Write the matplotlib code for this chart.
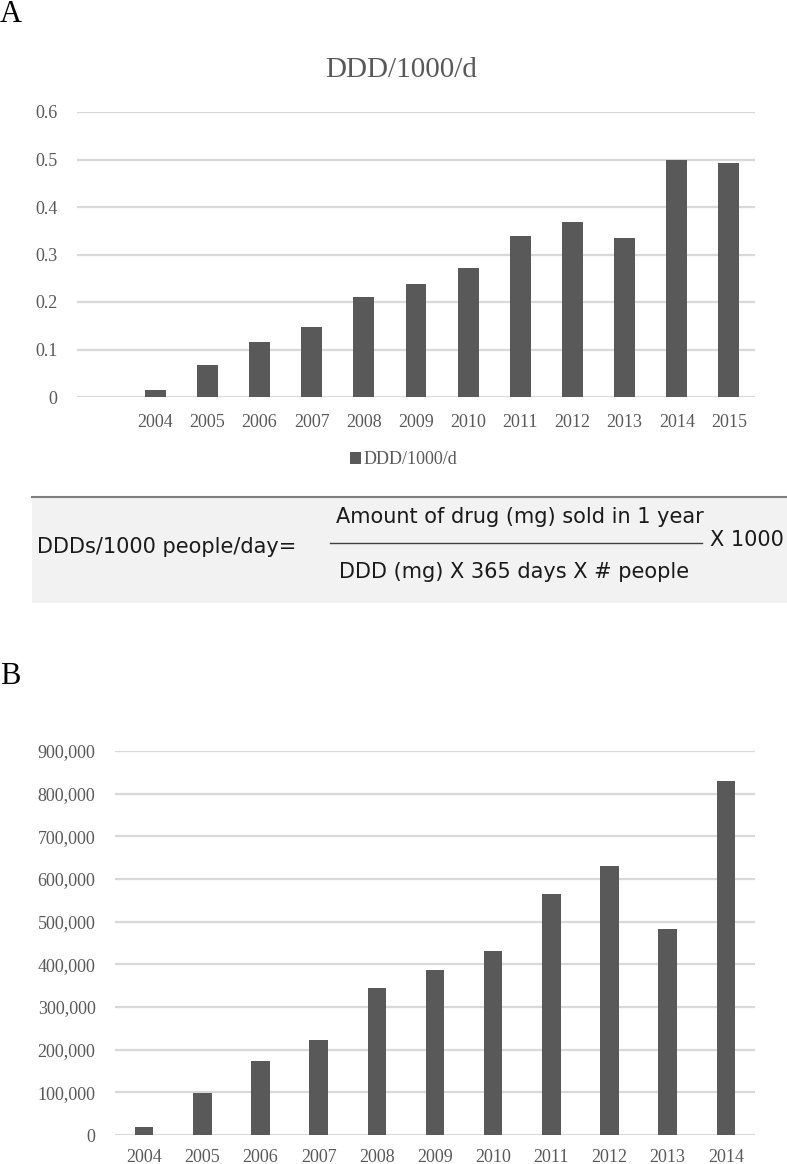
import matplotlib
matplotlib.use("Agg")
import matplotlib.pyplot as plt
from matplotlib.patches import Rectangle

# panel A : DDD/1000/d per year
years_a = [2004, 2005, 2006, 2007, 2008, 2009, 2010, 2011, 2012, 2013, 2014, 2015]
ddd_a = [0.014, 0.067, 0.116, 0.147, 0.210, 0.237, 0.271, 0.340, 0.368, 0.334, 0.499, 0.492]
yticks_a = [0, 0.1, 0.2, 0.3, 0.4, 0.5, 0.6]

# panel B : amount per year
years_b = [2004, 2005, 2006, 2007, 2008, 2009, 2010, 2011, 2012, 2013, 2014]
amount_b = [19600, 99500, 174500, 223000, 345000, 386000, 431000, 566000, 630000, 483000, 830000]
yticks_b = list(range(0, 900001, 100000))

W, H = 787, 1164
BAR = "#595959"
GRID = "#d9d9d9"
TXT = "#595959"
SERIF = "Liberation Serif"


def fx(x):
    return x / W


def fy(y):
    return 1 - y / H


def style(ax):
    for s in ax.spines.values():
        s.set_visible(False)
    ax.yaxis.grid(True, color=GRID, linewidth=1.6)
    ax.set_axisbelow(True)
    ax.tick_params(length=0, labelcolor=TXT, labelsize=13)
    for lab in ax.get_xticklabels() + ax.get_yticklabels():
        lab.set_fontfamily(SERIF)


fig = plt.figure(figsize=(W / 100, H / 100), dpi=100)

# ---- A
axA = fig.add_axes([fx(77), fy(397), (755 - 77) / W, (397 - 112) / H])
axA.bar(range(len(years_a)), ddd_a, width=0.4, color=BAR, label="DDD/1000/d", zorder=2)
axA.set_xlim(-1.5, len(years_a) - 0.5)
axA.set_ylim(0, 0.6)
axA.set_yticks(yticks_a)
axA.set_yticklabels([("%g" % v) for v in yticks_a])
axA.set_xticks(range(len(years_a)))
axA.set_xticklabels([str(y) for y in years_a])
axA.tick_params(axis="y", pad=14)
axA.tick_params(axis="x", pad=12)
style(axA)
fig.text(fx(401), fy(70), "DDD/1000/d", ha="center", va="center",
         fontsize=21, color=TXT, family=SERIF)
leg = axA.legend(loc="center", bbox_to_anchor=(fx(404), fy(460)),
                 bbox_transform=fig.transFigure, frameon=False,
                 handlelength=0.6, handleheight=0.6, handletextpad=0.15,
                 prop={"family": SERIF, "size": 13})
for t in leg.get_texts():
    t.set_color(TXT)

fig.text(fx(0), fy(14), "A", ha="left", va="center", fontsize=22, family=SERIF, color="black")

# ---- formula box
fig.patches.append(Rectangle((fx(32), fy(603)), fx(787) - fx(32), fy(497) - fy(603),
                             transform=fig.transFigure, facecolor="#f2f2f2",
                             edgecolor="none", zorder=0))
fig.add_artist(plt.Line2D([fx(32), fx(787)], [fy(497), fy(497)], transform=fig.transFigure,
                          color="#7f7f7f", linewidth=1.5))
fig.add_artist(plt.Line2D([fx(330), fx(702)], [fy(543), fy(543)], transform=fig.transFigure,
                          color="#404040", linewidth=1.0))
ftxt = dict(fontsize=15, color="#1a1a1a", family="DejaVu Sans", va="center")
fig.text(fx(37), fy(547), "DDDs/1000 people/day=", ha="left", **ftxt)
fig.text(fx(520), fy(517), "Amount of drug (mg) sold in 1 year", ha="center", **ftxt)
fig.text(fx(514), fy(572), "DDD (mg) X 365 days X # people", ha="center", **ftxt)
fig.text(fx(710), fy(540), "X 1000", ha="left", **ftxt)

# ---- B
axB = fig.add_axes([fx(115), fy(1135), (755 - 115) / W, (1135 - 751) / H])
axB.bar(range(len(years_b)), amount_b, width=0.32, color=BAR, zorder=2)
axB.set_xlim(-0.5, len(years_b) - 0.5)
axB.set_ylim(0, 900000)
axB.set_yticks(yticks_b)
axB.set_yticklabels(["{:,}".format(v) for v in yticks_b])
axB.set_xticks(range(len(years_b)))
axB.set_xticklabels([str(y) for y in years_b])
axB.tick_params(axis="y", pad=14)
axB.tick_params(axis="x", pad=10)
style(axB)
fig.text(fx(0), fy(676), "B", ha="left", va="center", fontsize=22, family=SERIF, color="black")

fig.savefig("out.png", dpi=100)
